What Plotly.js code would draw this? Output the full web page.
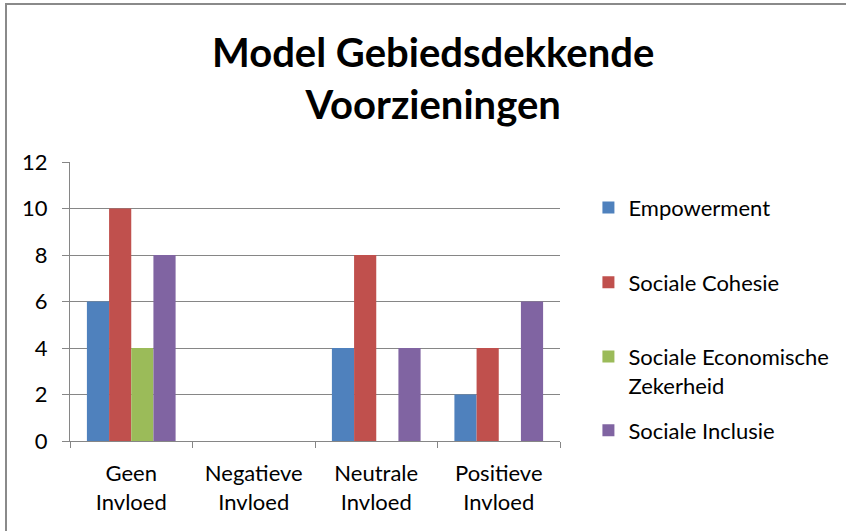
<!DOCTYPE html>
<html>
<head>
<meta charset="utf-8">
<script src="https://cdn.plot.ly/plotly-3.0.1.min.js"></script>
<style>
html,body{margin:0;padding:0;background:#fff;}
#wrap{position:relative;width:846px;height:531px;overflow:hidden;}
#chart{position:absolute;left:0;top:0;width:846px;height:531px;}
#frame{position:absolute;left:5px;top:3px;width:900px;height:600px;border-top:2px solid #8a8a8a;border-left:2px solid #8a8a8a;pointer-events:none;}
</style>
</head>
<body>
<div id="wrap"><div id="chart"></div><div id="frame"></div></div>
<script>
const categories = ["Geen<br>Invloed", "Negatieve<br>Invloed", "Neutrale<br>Invloed", "Positieve<br>Invloed"];
const seriesNames = ["Empowerment", "Sociale Cohesie", "Sociale Economische<br>Zekerheid", "Sociale Inclusie"];
const empowerment = [6, 0, 4, 2];
const socialeCohesie = [10, 0, 8, 4];
const socialeEconomischeZekerheid = [4, 0, 0, 0];
const socialeInclusie = [8, 0, 4, 6];
const yTicks = [0, 2, 4, 6, 8, 10, 12];

const colors = ["#4F81BD", "#C0504D", "#9BBB59", "#8064A2"];
const values = [empowerment, socialeCohesie, socialeEconomischeZekerheid, socialeInclusie];
const legendIds = ["legend", "legend2", "legend3", "legend4"];

const font = "Lato, 'Open Sans', sans-serif";
const traces = values.map((v, i) => ({
  type: "bar",
  x: categories,
  y: v,
  name: seriesNames[i],
  marker: {color: colors[i], line: {width: 0}},
  legend: legendIds[i],
  hoverinfo: "none"
}));

const legendBase = {
  xanchor: "left", yanchor: "middle",
  bgcolor: "rgba(0,0,0,0)", borderwidth: 0,
  font: {family: font, size: 22, color: "#000"},
  valign: "top"
};
const legendY = [0.836, 0.568, 0.25, 0.038];
const legendX = 1.058;

const layout = {
  width: 846, height: 531,
  margin: {l: 70, r: 279, t: 162, b: 90},
  paper_bgcolor: "#fff", plot_bgcolor: "#fff",
  barmode: "group",
  bargap: 0.276,
  bargroupgap: 0,
  font: {family: font, size: 22, color: "#000"},
  title: {
    text: "<b>Model Gebiedsdekkende<br>Voorzieningen</b>",
    font: {family: font, size: 40, color: "#000"},
    x: 0.512, xanchor: "center",
    y: 0.874, yanchor: "middle"
  },
  xaxis: {
    type: "category",
    showline: true, linecolor: "#868686", linewidth: 1,
    ticks: "outside", tickson: "boundaries", ticklen: 6, tickcolor: "#868686",
    showgrid: false, zeroline: false,
    tickfont: {family: font, size: 22, color: "#000"},
    ticklabelstandoff: 13,
    fixedrange: true
  },
  yaxis: {
    range: [0, 12],
    tickvals: yTicks,
    showline: true, linecolor: "#868686", linewidth: 1,
    ticks: "outside", ticklen: 7, tickcolor: "#868686",
    showgrid: true, gridcolor: "#868686", gridwidth: 1,
    zeroline: false,
    tickfont: {family: font, size: 22, color: "#000"},
    ticklabelstandoff: 10,
    fixedrange: true
  },
  showlegend: true
};
legendIds.forEach((id, i) => {
  layout[id] = Object.assign({}, legendBase, {x: legendX, y: legendY[i]});
});

Plotly.newPlot("chart", traces, layout, {displayModeBar: false, staticPlot: true});
</script>
</body>
</html>
